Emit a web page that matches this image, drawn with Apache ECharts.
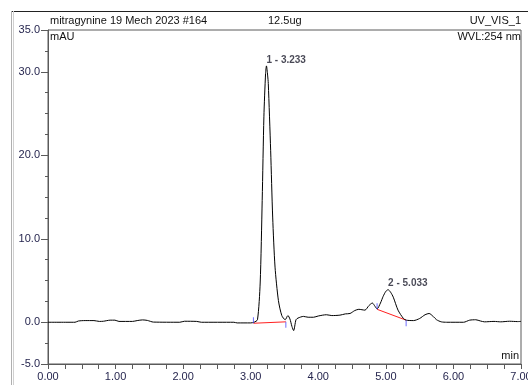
<!DOCTYPE html>
<html>
<head>
<meta charset="utf-8">
<script src="https://cdn.jsdelivr.net/npm/echarts@6/dist/echarts.min.js"></script>
<style>
  html, body { margin: 0; padding: 0; background: #fff; }
  #chart { width: 528px; height: 385px; }
</style>
</head>
<body>
<div id="chart"></div>
<script>
// Chromatogram: retention time (min) vs absorbance (mAU)
const retentionTime = [
  0.00, 0.40, 0.45, 0.55, 0.68, 0.76, 0.82, 0.92, 0.99, 1.05,
  1.25, 1.32, 1.40, 1.47, 1.56, 1.95, 2.02, 2.20, 2.27, 2.75,
  2.80, 3.00, 3.05, 3.10, 3.14, 3.17, 3.195, 3.22, 3.233, 3.25,
  3.26, 3.295, 3.325, 3.36, 3.41, 3.46, 3.51, 3.55, 3.58, 3.61,
  3.635, 3.67, 3.70, 3.78, 3.85, 3.93, 4.00, 4.12, 4.20, 4.32,
  4.40, 4.47, 4.54, 4.60, 4.69, 4.75, 4.80, 4.84, 4.87, 4.92,
  4.96, 5.00, 5.033, 5.07, 5.11, 5.18, 5.26, 5.30, 5.41, 5.50,
  5.58, 5.64, 5.70, 5.75, 5.82, 5.90, 6.15, 6.24, 6.33, 6.40,
  6.46, 6.60, 6.70, 6.83, 6.95, 7.00
];
const absorbance = [
  0.0, 0.0, 0.15, 0.2, 0.2, 0.1, 0.12, 0.25, 0.25, 0.1,
  0.1, 0.2, 0.28, 0.22, 0.02, 0.0, 0.12, 0.1, 0.0, 0.0,
  -0.08, -0.08, 0.0, 0.3, 4.7, 14.6, 24.6, 29.8, 30.7, 29.6,
  28.6, 20.6, 12.6, 6.6, 2.6, 0.8, 0.3, 0.8, 0.4, -0.5,
  -1.0, 0.3, 0.5, 0.7, 0.6, 0.6, 0.75, 0.9, 0.8, 0.85,
  1.0, 1.05, 1.4, 1.55, 1.45, 2.0, 2.3, 1.9, 1.6, 2.3,
  3.1, 3.7, 3.9, 3.6, 3.0, 1.45, 0.45, 0.25, 0.2, 0.45,
  0.9, 1.05, 0.7, 0.3, 0.05, 0.0, 0.0, 0.25, 0.3, 0.15,
  0.05, 0.1, 0.05, 0.12, 0.08, 0.1
];

// Integrated peaks: apex, label, baseline start/end
const peakTimes = [3.233, 5.033];
const peakHeights = [30.7, 3.9];
const peakLabels = ['1 - 3.233', '2 - 5.033'];
const baselineStart = [[3.04, -0.12], [4.87, 1.55]];
const baselineEnd = [[3.52, 0.05], [5.30, 0.25]];

const yLabelValues = [-5, 0, 10, 20, 30, 35];
const xLabelValues = [0, 1, 2, 3, 4, 5, 6, 7];

const headerLeft = 'mitragynine 19 Mech 2023 #164';
const headerMid = '12.5ug';
const headerRight = 'UV_VIS_1';
const unitY = 'mAU';
const wavelength = 'WVL:254 nm';
const unitX = 'min';

const tickLabelColor = '#26264f';
const axisColor = '#5a5a5a';
const font = 'Liberation Sans, Arial, sans-serif';

const trace = retentionTime.map((t, i) => [t, absorbance[i]]);
const apexes = peakTimes.map((t, i) => ({ value: [t, peakHeights[i]], name: peakLabels[i] }));
const baselineSeries = baselineStart.map((s, i) => ({
  type: 'line',
  data: [s, baselineEnd[i]],
  symbol: 'none',
  lineStyle: { color: '#ff2020', width: 1 },
  silent: true,
  z: 3
}));

// Peak start / end delimiters
const delimiter = (data, offset) => ({
  type: 'scatter',
  data: data,
  symbol: 'rect',
  symbolSize: [1, 6],
  symbolOffset: [0, offset],
  itemStyle: { color: '#4a4aff' },
  silent: true,
  z: 5
});

const chart = echarts.init(document.getElementById('chart'), null, { renderer: 'canvas' });

chart.setOption({
  animation: false,
  backgroundColor: '#ffffff',
  grid: {
    left: 48, right: 7, top: 30, bottom: 21,
    outerBoundsMode: 'none',
    containLabel: false,
    show: true, borderColor: axisColor, borderWidth: 1
  },
  xAxis: [{
    type: 'value', min: 0, max: 7, interval: 0.25,
    axisLine: { show: true, onZero: false, lineStyle: { color: axisColor } },
    axisTick: { show: true, length: 5, lineStyle: { color: axisColor } },
    splitLine: { show: false },
    axisLabel: {
      customValues: xLabelValues,
      formatter: v => v.toFixed(2),
      color: tickLabelColor, fontSize: 11, fontFamily: font, margin: 7
    }
  }],
  yAxis: [{
    type: 'value', min: -5, max: 35, interval: 2.5,
    axisLine: { show: true, onZero: false, lineStyle: { color: axisColor } },
    axisTick: { show: true, length: 3, lineStyle: { color: axisColor } },
    axisLabel: { show: false },
    splitLine: { show: false }
  }, {
    type: 'value', min: -5, max: 35, position: 'left',
    axisLine: { show: false },
    axisTick: { show: true, length: 7, customValues: yLabelValues, lineStyle: { color: axisColor } },
    axisLabel: {
      customValues: yLabelValues,
      formatter: v => v.toFixed(1),
      color: tickLabelColor, fontSize: 11, fontFamily: font, margin: 8
    },
    splitLine: { show: false }
  }],
  series: [{
    type: 'line',
    data: trace,
    symbol: 'none',
    smooth: 0.25,
    lineStyle: { color: '#000000', width: 1 },
    z: 4
  }].concat(baselineSeries).concat([
    delimiter(baselineStart, -3),
    delimiter(baselineEnd, 3),
    {
      type: 'scatter',
      data: apexes,
      symbolSize: 0,
      label: {
        show: true,
        position: 'top',
        align: 'left',
        distance: 1,
        formatter: p => p.name,
        color: '#1a1a2a',
        fontSize: 10,
        fontWeight: 'bold',
        fontFamily: font
      },
      silent: true,
      z: 6
    }
  ]),
  graphic: [
    { type: 'line', shape: { x1: 12, y1: 11.5, x2: 528, y2: 11.5 }, style: { stroke: '#222', lineWidth: 1 } },
    { type: 'line', shape: { x1: 11.5, y1: 11, x2: 11.5, y2: 385 }, style: { stroke: '#b0b0b0', lineWidth: 1 } },
    { type: 'line', shape: { x1: 13.5, y1: 11, x2: 13.5, y2: 385 }, style: { stroke: '#d0d0d0', lineWidth: 1 } },
    { type: 'text', left: 50, top: 15, style: { text: headerLeft, fill: '#111', font: '11px ' + font } },
    { type: 'text', left: 268, top: 15, style: { text: headerMid, fill: '#111', font: '11px ' + font } },
    { type: 'text', right: 7, top: 15, style: { text: headerRight, fill: '#111', font: '11px ' + font } },
    { type: 'text', left: 50, top: 31, style: { text: unitY, fill: '#111', font: '11px ' + font } },
    { type: 'text', right: 7, top: 31, style: { text: wavelength, fill: '#111', font: '11px ' + font } },
    { type: 'text', right: 9, top: 350, style: { text: unitX, fill: '#111', font: '11px ' + font } }
  ]
});
</script>
</body>
</html>
